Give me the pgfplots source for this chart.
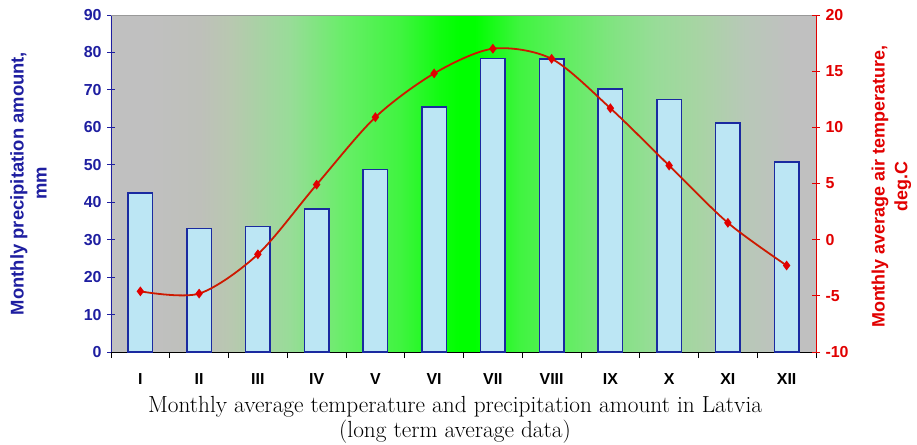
\documentclass[border=0pt]{standalone}
\usepackage{fontspec}
\newfontfamily\arialfont{Liberation Sans}
\usepackage{pgfplots}
\pgfplotsset{compat=1.18}
\definecolor{myblue}{RGB}{30,30,160}
\definecolor{myred}{RGB}{225,0,0}
\definecolor{linered}{RGB}{205,25,0}
\definecolor{barfill}{RGB}{188,230,244}
\definecolor{barline}{RGB}{26,42,160}
\definecolor{bg0}{RGB}{192,192,192}
\definecolor{bg1}{RGB}{190,192,186}
\definecolor{bg2}{RGB}{184,200,176}
\definecolor{bg3}{RGB}{152,220,152}
\definecolor{bg4}{RGB}{104,238,104}
\definecolor{bg5}{RGB}{64,244,64}
\definecolor{bg6}{RGB}{16,252,16}
\definecolor{bg7}{RGB}{0,255,0}
\definecolor{bg8}{RGB}{96,238,96}
\definecolor{bg9}{RGB}{128,228,128}
\definecolor{bg10}{RGB}{152,220,152}
\definecolor{bg11}{RGB}{168,212,164}
\definecolor{bg12}{RGB}{184,200,184}
% stops mapped into 25bp..75bp (the part TikZ stretches over the path)
\pgfdeclarehorizontalshading{bgshade}{100bp}{color(0bp)=(bg0); color(27.75bp)=(bg0); color(31.3bp)=(bg1); color(33.5bp)=(bg2); color(37.7bp)=(bg3); color(41.5bp)=(bg4); color(45.5bp)=(bg5); color(48.35bp)=(bg6); color(49.75bp)=(bg7); color(50.8bp)=(bg7); color(54bp)=(bg5); color(57.2bp)=(bg8); color(60.4bp)=(bg9); color(63.6bp)=(bg10); color(66.75bp)=(bg11); color(70bp)=(bg12); color(73.3bp)=(bg0); color(100bp)=(bg0)}
\newcommand{\tickfont}{\arialfont\bfseries\fontsize{16}{18}\selectfont}
\begin{document}
\begin{tikzpicture}
\path[use as bounding box] (-111bp,-93bp) rectangle (806bp,352bp);
\begin{axis}[
  scale only axis, width=705bp, height=337bp,
  xmin=0.5, xmax=12.5, ymin=0, ymax=90,
  axis x line*=bottom, axis y line*=left,
  axis background/.style={shade, shading=bgshade},
  x axis line style={black, line width=1pt, -},
  y axis line style={myblue, line width=1pt, -},
  /pgf/number format/assume math mode=true,
  tick align=outside,
  xtick={1,...,12},
  xticklabels={I,II,III,IV,V,VI,VII,VIII,IX,X,XI,XII},
  major x tick style=transparent,
  minor xtick={0.5,1.5,...,12.5},
  minor x tick style={black, line width=0.8pt},
  minor tick length=6bp,
  ytick={0,10,...,90},
  major tick length=8bp,
  major y tick style={myblue, line width=0.8pt, xshift=4bp},
  yticklabel style={font=\tickfont, text=myblue, xshift=2bp},
  xticklabel style={font=\tickfont, text=black, yshift=-10bp},
  ylabel={Monthly precipitation amount,\\ mm},
  every axis y label/.style={at={(axis description cs:-0.117,0.5)}, rotate=90, anchor=center, align=center, font=\arialfont\bfseries\fontsize{18.5}{23}\selectfont, text=myblue},
  xlabel={Monthly average temperature and precipitation amount in Latvia\\(long term average data)},
  every axis x label/.style={at={(axis description cs:0.488,-0.2)}, anchor=center, align=center, font=\fontsize{23.4}{25}\selectfont},
  clip=false,
]
\addplot[ybar, bar width=0.42, fill=barfill, draw=barline, line width=1.5pt] coordinates {(1,42.5)(2,33.0)(3,33.5)(4,38.2)(5,48.8)(6,65.4)(7,78.4)(8,78.2)(9,70.2)(10,67.5)(11,61.1)(12,50.8)};
\draw[gray!80, line width=0.8pt] (rel axis cs:0,1) -- (rel axis cs:1,1);
\end{axis}
\begin{axis}[
  scale only axis, width=705bp, height=337bp,
  xmin=0.5, xmax=12.5, ymin=-10, ymax=20,
  axis x line=none, axis y line*=right,
  y axis line style={myred, line width=1pt, -},
  /pgf/number format/assume math mode=true,
  tick align=outside,
  ytick={-10,-5,...,20},
  major tick length=8bp,
  major y tick style={myred, line width=0.8pt, xshift=-4bp},
  yticklabel style={font=\tickfont, text=myred, xshift=-2bp},
  ylabel={Monthly average air temperature,\\ deg.C},
  every axis y label/.style={at={(axis description cs:1.107,0.49)}, rotate=90, anchor=center, align=center, font=\arialfont\bfseries\fontsize{18}{23}\selectfont, text=myred},
  clip=false,
]
\addplot[linered, line width=1.8pt, smooth, tension=0.5, mark=diamond*, mark size=3.5pt, mark options={fill=myred, draw=myred}] coordinates {(1,-4.6)(2,-4.8)(3,-1.3)(4,4.9)(5,10.9)(6,14.8)(7,17.0)(8,16.1)(9,11.7)(10,6.6)(11,1.5)(12,-2.3)};
\end{axis}
\end{tikzpicture}
\end{document}
